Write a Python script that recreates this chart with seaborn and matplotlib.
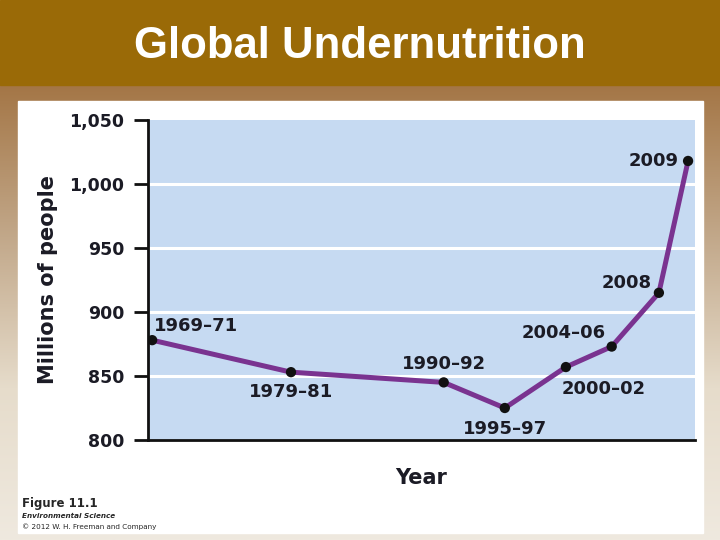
import numpy as np
import matplotlib
matplotlib.use("Agg")
import matplotlib.pyplot as plt
from matplotlib.patches import Rectangle
from matplotlib.colors import LinearSegmentedColormap
import seaborn as sns

# Data (x = approximate period position, y = millions of people)
periods = ["1969–71", "1979–81", "1990–92", "1995–97", "2000–02", "2004–06", "2008", "2009"]
x_pos = [1970, 1980, 1991, 1995.4, 1999.8, 2003.1, 2006.5, 2008.6]
millions = [878, 853, 845, 825, 857, 873, 915, 1018]
y_ticks = [800, 850, 900, 950, 1000, 1050]
y_ticklabels = ["800", "850", "900", "950", "1,000", "1,050"]

# label placement: (dx, dy) in points, horizontal alignment
label_pos = [(1, 10, "left"), (0, -14, "center"), (0, 13, "center"), (0, -15, "center"),
             (-3, -16, "left"), (-4, 10, "right"), (-5, 7, "right"), (-7, 0, "right")]

sns.set_style("white")
plt.rcParams["font.family"] = ["DejaVu Sans"]

fig = plt.figure(figsize=(7.2, 5.4), dpi=100)

# background: brown header band and a gradient below it
bg = fig.add_axes([0, 0, 1, 1], zorder=-10)
cmap = LinearSegmentedColormap.from_list("bg", ["#a47646", "#c2a88a", "#e6dccb", "#efe9df"])
bg.imshow(np.linspace(0, 1, 256).reshape(-1, 1), aspect="auto", cmap=cmap,
          extent=[0, 1, 0, 1 - 85 / 540], origin="upper")
bg.set_xlim(0, 1)
bg.set_ylim(0, 1)
bg.axis("off")
bg.add_patch(Rectangle((0, 1 - 85 / 540), 1, 85 / 540, color="#9a6a07"))
bg.add_patch(Rectangle((18 / 720, 7 / 540), (703 - 18) / 720, (533 - 101) / 540, color="white"))
bg.text(0.5, 1 - 47 / 540, "Global Undernutrition", color="white", fontsize=31.5,
        fontweight="bold", ha="center", va="center", family="Liberation Sans")

# caption
bg.text(22 / 720, 1 - 503 / 540, "Figure 11.1", fontsize=8.5, fontweight="bold", va="center")
bg.text(22 / 720, 1 - 516 / 540, "Environmental Science", fontsize=5.2, fontweight="bold",
        style="italic", va="center")
bg.text(22 / 720, 1 - 527 / 540, "© 2012 W. H. Freeman and Company", fontsize=5.2, va="center")

ax = fig.add_axes([148 / 720, 1 - 440 / 540, (695 - 148) / 720, 320 / 540])
ax.set_facecolor("#c6daf2")
for v in y_ticks[1:-1]:
    ax.axhline(v, color="white", lw=2.2, zorder=1)

sns.lineplot(x=x_pos, y=millions, ax=ax, color="#7a3390", lw=3.6, zorder=3)
sns.scatterplot(x=x_pos, y=millions, ax=ax, color="#111111", s=55, edgecolor="none", zorder=4)

for lab, x, y, (dx, dy, ha) in zip(periods, x_pos, millions, label_pos):
    ax.annotate(lab, (x, y), xytext=(dx, dy), textcoords="offset points", ha=ha, va="center",
                fontsize=13, fontweight="bold", color="#1b1b25", zorder=5)

ax.set_xlim(1969.7, 2009.1)
ax.set_ylim(800, 1050)
ax.set_yticks(y_ticks)
ax.set_yticklabels(y_ticklabels)
ax.set_xticks([])
ax.tick_params(axis="y", direction="out", length=10, width=2, color="#111111", pad=7,
               labelsize=12.5, left=True)
for t in ax.get_yticklabels():
    t.set_fontweight("bold")
    t.set_color("#1b1b25")
for side in ["top", "right"]:
    ax.spines[side].set_visible(False)
for side in ["left", "bottom"]:
    ax.spines[side].set_linewidth(2)
    ax.spines[side].set_color("#111111")

ax.set_xlabel("Year", fontsize=15, fontweight="bold", color="#1b1b25", labelpad=20)
ax.set_ylabel("Millions of people", fontsize=15, fontweight="bold", color="#1b1b25", labelpad=8)

fig.savefig("out.png", dpi=100)
